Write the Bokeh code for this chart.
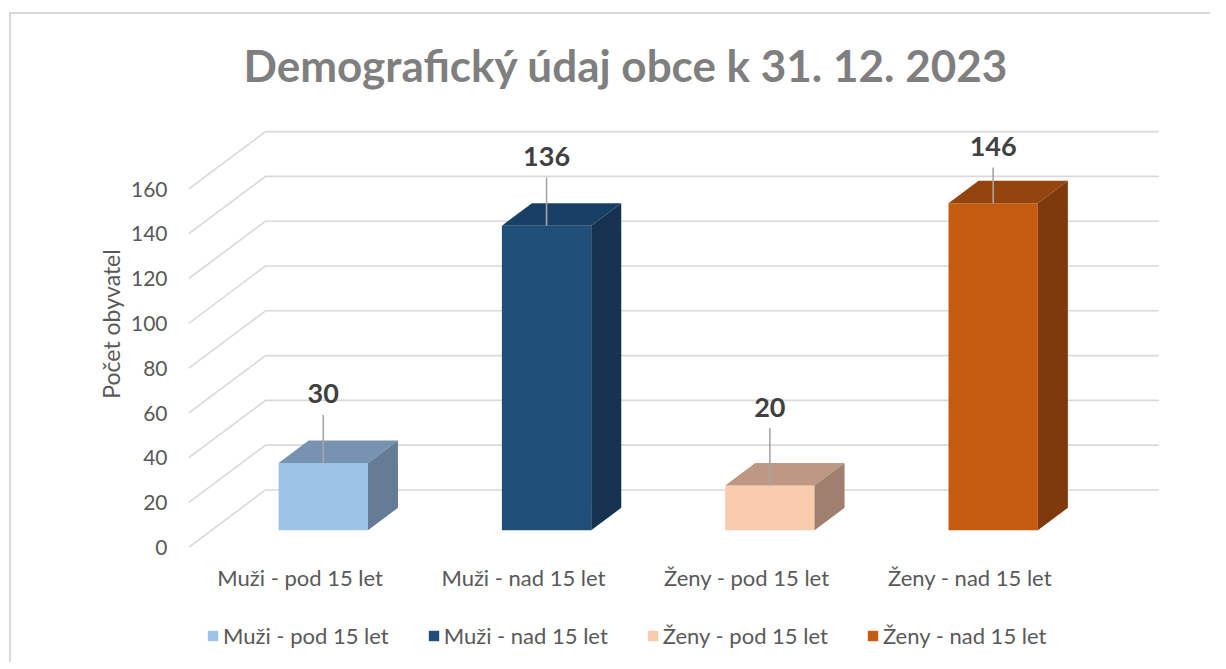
from bokeh.plotting import figure
from bokeh.layouts import column
from bokeh.models import FixedTicker, Legend, LegendItem
from bokeh.core.properties import value
from bokeh.embed import file_html
from bokeh.resources import INLINE

# ---------------- data ----------------
categories = ["Muži - pod 15 let", "Muži - nad 15 let", "Ženy - pod 15 let", "Ženy - nad 15 let"]
counts = [30, 136, 20, 146]
front_colors = ["#9DC3E6", "#1F4E79", "#F8CBAD", "#C55A11"]
top_colors = ["#7793B1", "#183F64", "#BE9882", "#94440D"]
side_colors = ["#647C96", "#15324F", "#A07F6E", "#7F3A0B"]
y_ticks = [0, 20, 40, 60, 80, 100, 120, 140, 160]
title_text = "Demografický údaj obce k 31. 12. 2023"
y_title = "Počet obyvatel"

# ---------------- layout of the pseudo-3D projection ----------------
DX, DY = 0.345, 25.7      # shift of the back wall (x units, value units)
D0, D1 = 0.30, 0.69       # depth of bar front / back faces
HALF_W = 0.2              # half bar width (category units)
X_LEFT, X_RIGHT = -0.5, 3.5
leader_len = [21.5, 21.5, 25.5, 16.0]   # leader line lengths (value units)
FONT = "Lato"
W = 1210


def proj(x, v, d):
    return x + d * DX, v + d * DY


p = figure(width=W, height=612, x_range=(-0.5, 4.032), y_range=(0, 199.6),
           output_backend="svg", toolbar_location=None,
           min_border_left=188, min_border_right=10, min_border_top=100, min_border_bottom=65)
p.outline_line_color = None
p.xgrid.visible = False
p.ygrid.visible = False
p.background_fill_color = "white"
p.border_fill_alpha = 0

# title
p.title.text = title_text
p.title.align = "left"
p.title.offset = 55
p.title.text_font = FONT
p.title.text_font_size = "44px"
p.title.text_font_style = "bold"
p.title.text_color = "#7F7F7F"
p.title.standoff = 20

# gridlines: front diagonals + back wall horizontals
gx, gy = [], []
for t in y_ticks:
    x0, y0 = proj(X_LEFT, t, 0)
    x1, y1 = proj(X_LEFT, t, 1)
    x2, y2 = proj(X_RIGHT, t, 1)
    gx.append([x0, x1, x2])
    gy.append([y0, y1, y2])
p.multi_line(gx, gy, line_color="#D9D9D9", line_width=1.6)

# bars
for i, (cat, v) in enumerate(zip(categories, counts)):
    xl, xr = i - HALF_W, i + HALF_W
    fl, fb = proj(xl, 0, D0)
    fr, ft = proj(xr, v, D0)
    p.quad(left=[fl], right=[fr], bottom=[fb], top=[ft],
           fill_color=front_colors[i], line_color=None)
    top_pts = [proj(xl, v, D0), proj(xr, v, D0), proj(xr, v, D1), proj(xl, v, D1)]
    p.patch([q[0] for q in top_pts], [q[1] for q in top_pts],
            fill_color=top_colors[i], line_color=None)
    side_pts = [proj(xr, 0, D0), proj(xr, v, D0), proj(xr, v, D1), proj(xr, 0, D1)]
    p.patch([q[0] for q in side_pts], [q[1] for q in side_pts],
            fill_color=side_colors[i], line_color=None)

# leader lines and data labels
lx, ly0, ly1, ty, tt = [], [], [], [], []
for i, v in enumerate(counts):
    cx, cy = proj(i, v, D0)
    lx.append(cx)
    ly0.append(cy)
    ly1.append(cy + leader_len[i])
    ty.append(cy + leader_len[i] + 9.5)
    tt.append(str(v))
p.segment(x0=lx, y0=ly0, x1=lx, y1=ly1, line_color="#A6A6A6", line_width=1.6)
p.text(x=lx, y=ty, text=tt, text_align="center", text_baseline="middle",
       text_font=value(FONT), text_font_size="27px", text_font_style="bold",
       text_color="#404040")

# axes
p.yaxis.ticker = FixedTicker(ticks=y_ticks)
p.yaxis.axis_line_color = None
p.yaxis.major_tick_line_color = None
p.yaxis.minor_tick_line_color = None
p.yaxis.major_label_standoff = 15
p.yaxis.major_label_text_font = FONT
p.yaxis.major_label_text_font_size = "21px"
p.yaxis.major_label_text_color = "#595959"
p.yaxis.axis_label = y_title
p.yaxis.axis_label_text_font = FONT
p.yaxis.axis_label_text_font_size = "23px"
p.yaxis.axis_label_text_font_style = "normal"
p.yaxis.axis_label_text_color = "#595959"
p.yaxis.axis_label_standoff = 3

p.xaxis.ticker = FixedTicker(ticks=list(range(len(categories))))
p.xaxis.major_label_overrides = {i: c for i, c in enumerate(categories)}
p.xaxis.axis_line_color = None
p.xaxis.major_tick_line_color = None
p.xaxis.minor_tick_line_color = None
p.xaxis.major_label_standoff = 10
p.xaxis.major_label_text_font = FONT
p.xaxis.major_label_text_font_size = "22px"
p.xaxis.major_label_text_color = "#595959"

# ---------------- legend strip ----------------
pl = figure(width=W, height=50, x_range=(0, 1), y_range=(0, 1),
            x_axis_type=None, y_axis_type=None,
            output_backend="svg", toolbar_location=None,
            min_border_left=0, min_border_right=0, min_border_top=0, min_border_bottom=0)
pl.outline_line_color = None
pl.grid.visible = False
pl.background_fill_alpha = 0
pl.border_fill_alpha = 0
items = []
for i, cat in enumerate(categories):
    # legend swatch renderers: one box each, kept outside the visible range
    r = pl.quad(left=[5], right=[6], bottom=[5], top=[6], fill_color=front_colors[i], line_color=None)
    items.append(LegendItem(label=cat, renderers=[r]))
legend = Legend(items=items, orientation="horizontal", location=(18, 13),
                glyph_width=13, glyph_height=13, label_standoff=4, spacing=38,
                padding=5, margin=0, border_line_color=None, background_fill_alpha=0,
                label_text_font=FONT, label_text_font_size="22px", label_text_color="#595959")
pl.add_layout(legend)

layout = column(p, pl, spacing=0, styles={
    "background-image": "linear-gradient(#D9D9D9, #D9D9D9), linear-gradient(#D9D9D9, #D9D9D9)",
    "background-size": "2px 100%, 100% 2px",
    "background-position": "9px 12px, 9px 12px",
    "background-repeat": "no-repeat",
})

open("out.html", "w").write(file_html(layout, INLINE))
